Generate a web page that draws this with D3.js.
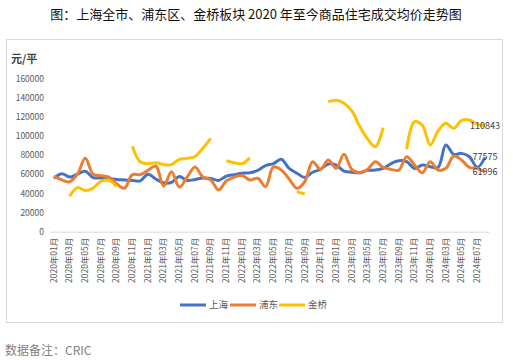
<!DOCTYPE html>
<html>
<head>
<meta charset="utf-8">
<script src="https://cdn.jsdelivr.net/npm/d3@7"></script>
<style>
  body { margin: 0; background: #fff; }
  svg text { font-family: "Noto Sans CJK SC", "Noto Sans", sans-serif; }
</style>
</head>
<body>
<div id="chart"></div>
<script>
// 月份：2020年01月 .. 2024年08月
const months = [];
for (let y = 2020; y <= 2024; y++) {
  for (let m = 1; m <= 12; m++) {
    if (y === 2024 && m > 8) break;
    months.push(`${y}年${String(m).padStart(2, "0")}月`);
  }
}
// 横轴只显示奇数月
const tickLabels = months.filter((d, i) => i % 2 === 0);

const yTicks = [0, 20000, 40000, 60000, 80000, 100000, 120000, 140000, 160000];

const shanghai = [
  55700, 60500, 57000, 60000, 63000, 56500, 56000, 55500, 54500, 54000,
  53500, 53000, 60000, 55000, 51000, 51500, 57500, 53500, 54500, 56000,
  55500, 53500, 58000, 59500, 61000, 61500, 64000, 69000, 71000, 75500,
  66000, 61000, 56500, 62000, 65000, 70500, 69500, 63300, 62000, 61500,
  64000, 64300, 66000, 71000, 74000, 73000, 66000, 69600, 67800, 67100,
  90400, 80700, 81700, 78200, 67100, 77575
];
const pudong = [
  58000, 54000, 52000, 60000, 76500, 60000, 58500, 57000, 50000, 45300,
  59500, 59500, 64000, 68500, 47500, 62600, 46500, 57000, 67500, 57000,
  54000, 43500, 53000, 57000, 58500, 54000, 55700, 47000, 67500, 64300,
  55000, 45300, 52100, 73000, 65000, 74800, 66100, 80700, 65000, 61500,
  65000, 73000, 67100, 65000, 64300, 78200, 69600, 61500, 73000, 64300,
  66100, 78900, 74800, 67100, 66000, 61996
];
const jinqiao = [
  null, null, 37000, 46000, 43000, 45500, 52500, 53500, 47000, null,
  89000, 73000, 71000, 72000, 70000, 70000, 75500, 76500, 78500, 87000,
  97400, null, 74000, 72000, 71000, 77000, null, null, null, null,
  null, 41700, 39300, null, null, 135500, 137000, 134000, 126000, 110000,
  97000, 88600, 108500, null, null, 86000, 114700, 111000, 90400, 105000,
  113000, 107800, 116000, 116500, 112000, 110843
];

const seriesNames = ["上海", "浦东", "金桥"];
const seriesData = [shanghai, pudong, jinqiao];
const colors = ["#4472C4", "#ED7D31", "#FFC000"];

const width = 513, height = 360;
const svg = d3.select("#chart").append("svg")
  .attr("width", width).attr("height", height);

// 标题
svg.append("text")
  .attr("x", 256).attr("y", 19)
  .attr("text-anchor", "middle")
  .attr("font-size", 13)
  .attr("fill", "#111")
  .text("图：上海全市、浦东区、金桥板块 2020 年至今商品住宅成交均价走势图");

// 图表外框
svg.append("rect")
  .attr("x", 6.5).attr("y", 39.5)
  .attr("width", 496).attr("height", 283)
  .attr("fill", "none").attr("stroke", "#d9d9d9");

// 单位
svg.append("text")
  .attr("x", 11).attr("y", 63)
  .attr("font-size", 11).attr("font-weight", "bold")
  .attr("fill", "#404040")
  .text("元/平");

const x = d3.scaleBand().domain(months).range([50, 489]);
const y = d3.scaleLinear().domain([0, 160000]).range([231.7, 78.3]);
const cx = d => x(d) + x.bandwidth() / 2;

// Y轴
svg.append("g")
  .attr("transform", "translate(50,0)")
  .call(d3.axisLeft(y).tickValues(yTicks).tickSize(0).tickPadding(6).tickFormat(d3.format("d")))
  .call(g => g.select(".domain").remove())
  .selectAll("text")
  .attr("font-size", 8.5).attr("fill", "#595959");

// X轴
const xAxis = svg.append("g")
  .attr("transform", `translate(0,${y(0)})`)
  .call(d3.axisBottom(x).tickValues(tickLabels).tickSize(0).tickPadding(0));
xAxis.select(".domain").attr("stroke", "#d9d9d9");
xAxis.selectAll("text")
  .attr("font-size", 8.5).attr("fill", "#595959")
  .attr("transform", "rotate(-90)")
  .attr("text-anchor", "end")
  .attr("dy", "0.32em")
  .attr("x", -6).attr("y", 0);

// 折线
const line = d3.line()
  .defined(d => d.v != null)
  .x(d => cx(d.m))
  .y(d => y(d.v))
  .curve(d3.curveCatmullRom.alpha(0.5));

seriesData.forEach((arr, k) => {
  const pts = arr.map((v, i) => ({ m: months[i], v }));
  svg.append("path")
    .datum(pts)
    .attr("fill", "none")
    .attr("stroke", colors[k])
    .attr("stroke-width", 3)
    .attr("stroke-linejoin", "round")
    .attr("d", line);
});

// 末值标签
seriesData.forEach((arr, k) => {
  const last = arr.length - 1;
  svg.append("text")
    .attr("x", cx(months[last]))
    .attr("y", y(arr[last]))
    .attr("dy", "0.35em")
    .attr("text-anchor", "middle")
    .attr("font-size", 9)
    .attr("fill", "#404040")
    .text(arr[last]);
});

// 图例
const legendX = [180, 230, 279];
const legend = svg.append("g").selectAll("g")
  .data(seriesNames).join("g")
  .attr("transform", (d, i) => `translate(${legendX[i]},305)`);
legend.append("line")
  .attr("x1", 0).attr("x2", 26)
  .attr("stroke", (d, i) => colors[i]).attr("stroke-width", 3);
legend.append("text")
  .attr("x", 29).attr("dy", "0.35em")
  .attr("font-size", 9.5).attr("fill", "#595959")
  .text(d => d);

// 数据备注
svg.append("text")
  .attr("x", 5).attr("y", 355)
  .attr("font-size", 12).attr("fill", "#7f7f7f")
  .text("数据备注：CRIC");
</script>
</body>
</html>
